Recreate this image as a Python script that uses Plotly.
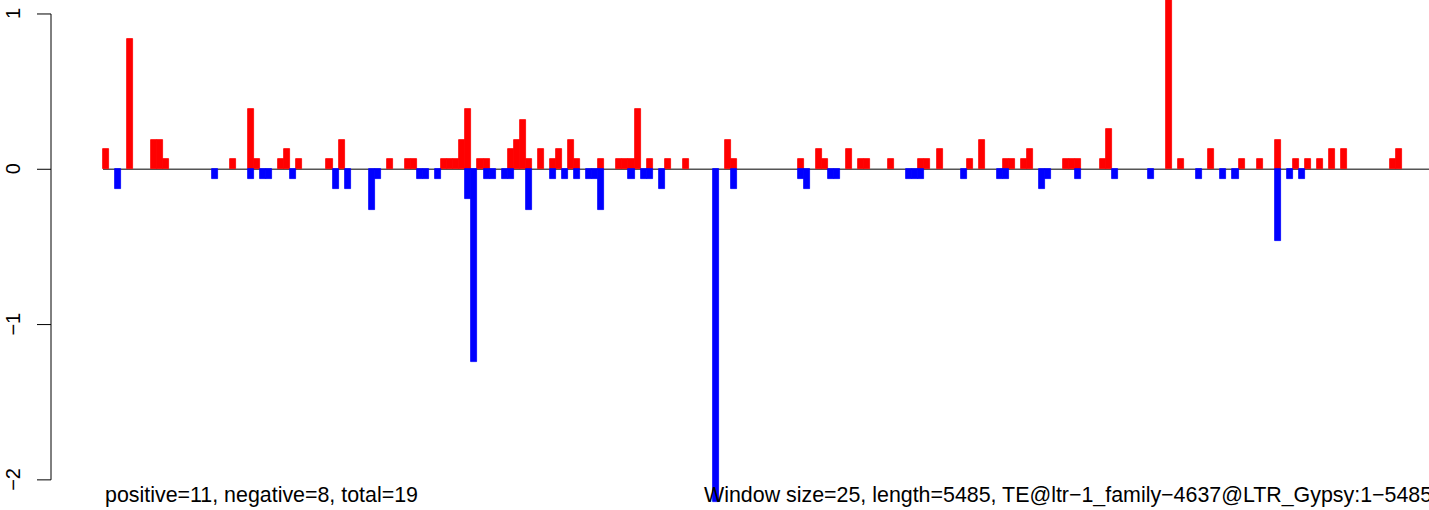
import plotly.graph_objects as go

# window index -> signal
pos_idx = [0, 4, 8, 9, 10, 21, 24, 25, 29, 30, 32, 37, 39, 47, 50, 51,
           56, 57, 58, 59, 60, 62, 63, 67, 68, 69, 70, 72, 74, 75, 77, 78,
           82, 85, 86, 87, 88, 90, 93, 96, 103, 104, 115, 118, 119, 123,
           125, 126, 130, 135, 136, 138, 143, 145, 149, 150, 152, 153,
           159, 160, 161, 165, 166, 176, 178, 183, 188, 191, 194, 197,
           199, 201, 203, 205, 213, 214]
pos_val = [0.13, 0.84, 0.19, 0.19, 0.065, 0.065, 0.39, 0.065, 0.065, 0.13,
           0.065, 0.065, 0.19, 0.065, 0.065, 0.065,
           0.065, 0.065, 0.065, 0.19, 0.39, 0.065, 0.065, 0.13, 0.19, 0.32,
           0.065, 0.13, 0.065, 0.13, 0.19, 0.065,
           0.065, 0.065, 0.065, 0.065, 0.39, 0.065, 0.065, 0.065, 0.19,
           0.065, 0.065, 0.13, 0.065, 0.13,
           0.065, 0.065, 0.065, 0.065, 0.065, 0.13, 0.065, 0.19, 0.065,
           0.065, 0.065, 0.13,
           0.065, 0.065, 0.065, 0.065, 0.26, 1.2, 0.065, 0.13, 0.065,
           0.065, 0.19, 0.065,
           0.065, 0.065, 0.13, 0.13, 0.065, 0.13]

neg_idx = [2, 18, 24, 26, 27, 31, 38, 40, 44, 45, 52, 53, 55, 60, 61, 63,
           64, 66, 67, 70, 74, 76, 78, 80, 81, 82, 87, 89, 90, 92, 101, 104,
           115, 116, 120, 121, 133, 134, 135, 142, 148, 149, 155, 156, 161,
           167, 173, 181, 185, 187, 194, 196, 198]
neg_val = [-0.13, -0.065, -0.065, -0.065, -0.065, -0.065, -0.13, -0.13,
           -0.26, -0.065, -0.065, -0.065, -0.065, -0.19, -1.24, -0.065,
           -0.065, -0.065, -0.065, -0.26, -0.065, -0.065, -0.065, -0.065,
           -0.065, -0.26, -0.065, -0.065, -0.065, -0.13, -2.14, -0.13,
           -0.065, -0.13, -0.065, -0.065, -0.065, -0.065, -0.065, -0.065,
           -0.065, -0.065, -0.13, -0.065, -0.065,
           -0.065, -0.065, -0.065, -0.065, -0.065, -0.46, -0.065, -0.065]

y_ticks = [1, 0, -1, -2]
y_tick_text = ["1", "0", "\u22121", "\u22122"]

left_note = "positive=11, negative=8, total=19"
right_note = "Window size=25, length=5485, TE@ltr\u22121_family\u22124637@LTR_Gypsy:1\u22125485"

W, H = 1429, 510
FONT = "Liberation Sans, Arial, sans-serif"

fig = go.Figure()
fig.add_trace(go.Bar(x=pos_idx, y=pos_val, width=1, marker_color="#ff0000",
                     marker_line=dict(color="#ff0000", width=0.8), name="positive"))
fig.add_trace(go.Bar(x=neg_idx, y=neg_val, width=1, marker_color="#0000ff",
                     marker_line=dict(color="#0000ff", width=0.8), name="negative"))

shapes = [
    # zero line
    dict(type="line", xref="x", yref="y", x0=-0.5, x1=230, y0=0, y1=0,
         line=dict(color="#555555", width=1.5), layer="below"),
    # y axis
    dict(type="line", xref="paper", yref="y", x0=51 / W, x1=51 / W, y0=-2, y1=1,
         line=dict(color="black", width=1)),
]
annotations = []
for v, t in zip(y_ticks, y_tick_text):
    shapes.append(dict(type="line", xref="paper", yref="y", x0=37 / W, x1=51 / W,
                       y0=v, y1=v, line=dict(color="black", width=1)))
    annotations.append(dict(x=13 / W, y=v, xref="paper", yref="y", text=t,
                            textangle=-90, showarrow=False,
                            font=dict(family=FONT, size=20, color="black"),
                            xanchor="center", yanchor="middle"))

annotations.append(dict(x=103 / W, y=1 - 495 / H, xref="paper", yref="paper",
                        text=left_note, showarrow=False, xanchor="left",
                        yanchor="middle", font=dict(family=FONT, size=21.4, color="black")))
annotations.append(dict(x=702 / W, y=1 - 495 / H, xref="paper", yref="paper",
                        text=right_note, showarrow=False, xanchor="left",
                        yanchor="middle", font=dict(family=FONT, size=21.4, color="black")))

fig.update_layout(
    width=W, height=H,
    margin=dict(l=0, r=0, t=0, b=0),
    paper_bgcolor="white", plot_bgcolor="white",
    barmode="overlay", bargap=0,
    showlegend=False,
    xaxis=dict(range=[-17.553, 219.04], visible=False),
    yaxis=dict(range=[-2.194, 1.090], visible=False),
    shapes=shapes,
    annotations=annotations,
)

# drop the page's default body margin so the figure sits at the window corner
fig.write_html("out.html", config={"displayModeBar": False},
               post_script="document.body.style.margin='0';document.body.style.overflow='hidden';")
